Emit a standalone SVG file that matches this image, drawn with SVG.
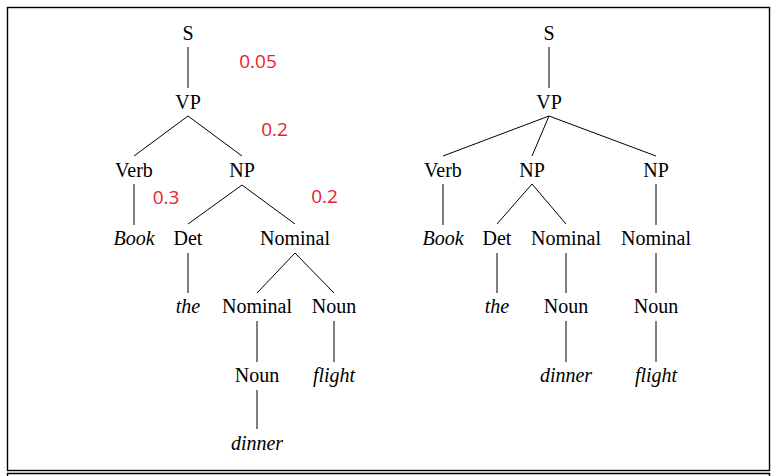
<svg xmlns="http://www.w3.org/2000/svg" width="772" height="476" viewBox="0 0 772 476">
<style>
.t{font-family:"Liberation Serif","Times New Roman",serif;font-size:20px;fill:#000;text-anchor:middle}
.i{font-style:italic}
.p{font-family:"Open Sans","Noto Sans",sans-serif;font-size:19px;fill:#e8212b;text-anchor:middle}
.e{stroke:#000;stroke-width:1;fill:none}
.b{stroke:#000;stroke-width:1.4;fill:none}
</style>
<rect x="0" y="0" width="772" height="476" fill="#fff"/>
<g id="frame">
<rect class="b" x="7.5" y="7.5" width="762" height="463"/>
<path class="b" d="M7.5 476V473.5H769.5V476"/>
</g>
<g id="connectors">
<!-- left tree -->
<path class="e" d="M188 47V88"/>
<path class="e" d="M188 116L134 156M188 116L242 156"/>
<path class="e" d="M134 184V225"/>
<path class="e" d="M242 185L188 224M242 185L295 224"/>
<path class="e" d="M188 253V293"/>
<path class="e" d="M295 253L257 293M295 253L334 293"/>
<path class="e" d="M257 321V362M334 321V362"/>
<path class="e" d="M257 390V429"/>
<!-- right tree -->
<path class="e" d="M549 47V88"/>
<path class="e" d="M549 116L443 156M549 116L532 156M549 116L656 156"/>
<path class="e" d="M443 184V225"/>
<path class="e" d="M532 184L497 224M532 184L566 224"/>
<path class="e" d="M656 184V225"/>
<path class="e" d="M497 253V293M566 253V293M656 253V293"/>
<path class="e" d="M566 321V362M656 321V362"/>
</g>
<!-- left tree nodes -->
<g id="l-S"><text class="t" x="188" y="40">S</text></g>
<g id="l-VP"><text class="t" x="188" y="109">VP</text></g>
<g id="l-Verb"><text class="t" x="134" y="176.5">Verb</text></g>
<g id="l-NP"><text class="t" x="242" y="176.5">NP</text></g>
<g id="l-Book"><text class="t i" x="134" y="245">Book</text></g>
<g id="l-Det"><text class="t" x="188" y="245">Det</text></g>
<g id="l-Nominal1"><text class="t" x="295" y="245">Nominal</text></g>
<g id="l-the"><text class="t i" x="188" y="313">the</text></g>
<g id="l-Nominal2"><text class="t" x="257" y="313">Nominal</text></g>
<g id="l-Noun1"><text class="t" x="334" y="313">Noun</text></g>
<g id="l-Noun2"><text class="t" x="257" y="382">Noun</text></g>
<g id="l-flight"><text class="t i" x="334" y="382">flight</text></g>
<g id="l-dinner"><text class="t i" x="257" y="450">dinner</text></g>
<g id="probs">
<text class="p" x="258" y="68">0.05</text>
<text class="p" x="274.5" y="136">0.2</text>
<text class="p" x="166" y="204">0.3</text>
<text class="p" x="324.5" y="203">0.2</text>
</g>
<!-- right tree nodes -->
<g id="r-S"><text class="t" x="549" y="40">S</text></g>
<g id="r-VP"><text class="t" x="549" y="109">VP</text></g>
<g id="r-Verb"><text class="t" x="443" y="176.5">Verb</text></g>
<g id="r-NP1"><text class="t" x="532" y="176.5">NP</text></g>
<g id="r-NP2"><text class="t" x="656" y="176.5">NP</text></g>
<g id="r-Book"><text class="t i" x="443" y="245">Book</text></g>
<g id="r-Det"><text class="t" x="497" y="245">Det</text></g>
<g id="r-Nominal1"><text class="t" x="566" y="245">Nominal</text></g>
<g id="r-Nominal2"><text class="t" x="656" y="245">Nominal</text></g>
<g id="r-the"><text class="t i" x="497" y="313">the</text></g>
<g id="r-Noun1"><text class="t" x="566" y="313">Noun</text></g>
<g id="r-Noun2"><text class="t" x="656" y="313">Noun</text></g>
<g id="r-dinner"><text class="t i" x="566" y="382">dinner</text></g>
<g id="r-flight"><text class="t i" x="656" y="382">flight</text></g>
</svg>
